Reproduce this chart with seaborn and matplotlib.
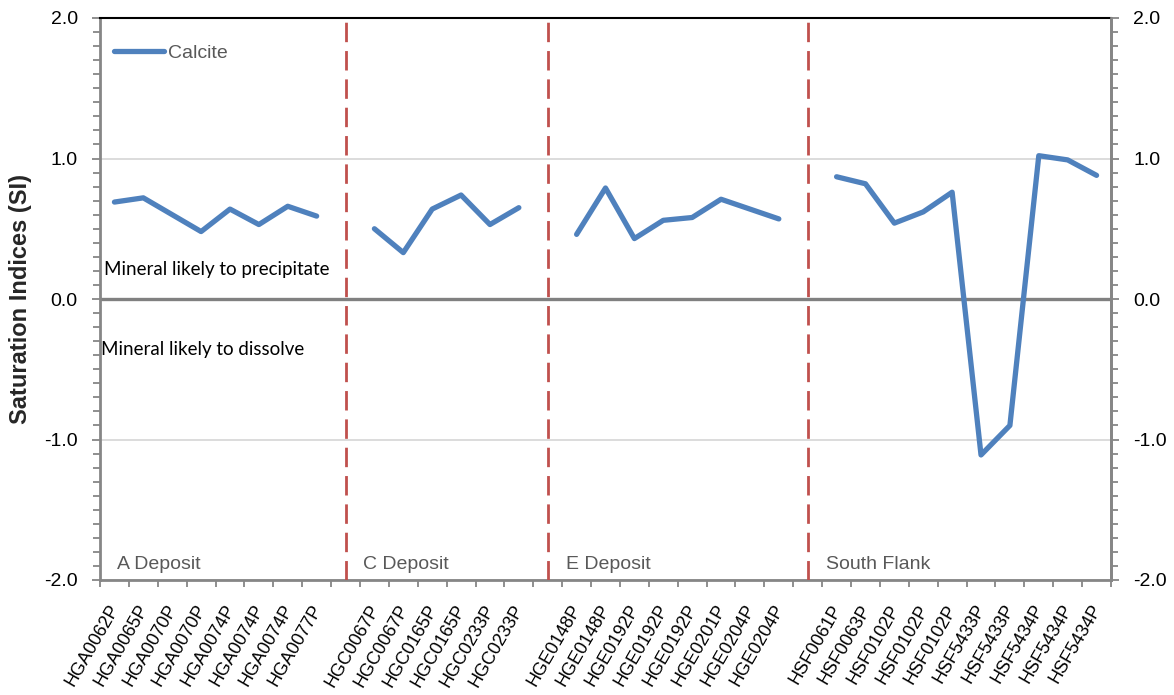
import matplotlib
matplotlib.use("Agg")
import matplotlib.pyplot as plt
import matplotlib.transforms as mtransforms
from matplotlib.lines import Line2D
from matplotlib.ticker import FixedLocator, MultipleLocator, FormatStrFormatter
import pandas as pd
import seaborn as sns

# Calcite saturation indices per deposit
deposits = ["A Deposit", "C Deposit", "E Deposit", "South Flank"]

a_samples = ["HGA0062P", "HGA0065P", "HGA0070P", "HGA0070P",
             "HGA0074P", "HGA0074P", "HGA0074P", "HGA0077P"]
a_si = [0.69, 0.72, 0.60, 0.48, 0.64, 0.53, 0.66, 0.59]

c_samples = ["HGC0067P", "HGC0067P", "HGC0165P", "HGC0165P",
             "HGC0233P", "HGC0233P"]
c_si = [0.50, 0.33, 0.64, 0.74, 0.53, 0.65]

e_samples = ["HGE0148P", "HGE0148P", "HGE0192P", "HGE0192P",
             "HGE0192P", "HGE0201P", "HGE0204P", "HGE0204P"]
e_si = [0.46, 0.79, 0.43, 0.56, 0.58, 0.71, 0.64, 0.57]

sf_samples = ["HSF0061P", "HSF0063P", "HSF0102P", "HSF0102P", "HSF0102P",
              "HSF5433P", "HSF5433P", "HSF5434P", "HSF5434P", "HSF5434P"]
sf_si = [0.87, 0.82, 0.54, 0.62, 0.76, -1.11, -0.90, 1.02, 0.99, 0.88]

y_ticks = [-2.0, -1.0, 0.0, 1.0, 2.0]

groups = [(a_samples, a_si), (c_samples, c_si), (e_samples, e_si), (sf_samples, sf_si)]

# Lay the samples out on a category axis with one empty slot between deposits
rows, labels, gaps, starts = [], [], [], []
pos = 0
for i, (dep, (names, vals)) in enumerate(zip(deposits, groups)):
    if i > 0:
        gaps.append(pos)
        labels.append("")
        pos += 1
    starts.append(pos)
    for n, v in zip(names, vals):
        rows.append({"pos": pos, "sample": n, "si": v, "deposit": dep})
        labels.append(n)
        pos += 1
n_slots = pos
df = pd.DataFrame(rows)

sns.set_theme(style="white")
plt.rcParams["font.family"] = ["Liberation Sans", "DejaVu Sans"]
plt.rcParams["axes.unicode_minus"] = False

BLUE = "#4f81bd"
RED = "#c0504d"
AXIS_GREY = "#868686"
TEXT_GREY = "#595959"

fig = plt.figure(figsize=(11.74, 6.95), dpi=100)
W, H = 1174, 695
ax = fig.add_axes([100 / W, 1 - 580 / H, 1011 / W, 562 / H])

ax.set_xlim(-0.5, n_slots - 0.5)
ax.set_ylim(-2, 2)

# Horizontal gridlines and the zero reference line
ax.yaxis.set_major_locator(FixedLocator(y_ticks))
ax.grid(axis="y", which="major", color="#d9d9d9", lw=1.3)
ax.grid(axis="x", visible=False)
ax.axhline(0, color="#808080", lw=2.4, zorder=2)

# Deposit separators
for g in gaps:
    ax.axvline(g, color=RED, lw=2.0, dashes=(7, 3.2), zorder=3)

# Calcite series, one unbroken line per deposit
for dep in deposits:
    sns.lineplot(data=df[df["deposit"] == dep], x="pos", y="si", ax=ax,
                 color=BLUE, lw=3.8, legend=False, sort=False, zorder=4,
                 solid_capstyle="round", solid_joinstyle="round")

# Spines
for side in ["left", "right", "bottom"]:
    ax.spines[side].set_color(AXIS_GREY)
    ax.spines[side].set_linewidth(2)
ax.spines["top"].set_color("black")
ax.spines["top"].set_linewidth(1.5)

# Y axis ticks
ax.yaxis.set_minor_locator(MultipleLocator(0.1))
ax.yaxis.set_major_formatter(FormatStrFormatter("%.1f"))
ax.tick_params(axis="y", which="both", left=True, direction="out",
               color=AXIS_GREY, width=1.3, labelsize=14, labelcolor="black", pad=10)
ax.tick_params(axis="y", which="major", length=6)
ax.tick_params(axis="y", which="minor", length=5)

# X axis: labels at category centres, tick marks at category boundaries
ax.xaxis.set_major_locator(FixedLocator(list(range(n_slots))))
ax.set_xticklabels(labels)
ax.xaxis.set_minor_locator(FixedLocator([k - 0.5 for k in range(n_slots + 1)]))
ax.tick_params(axis="x", which="major", length=0, pad=0, labelsize=13, labelcolor="black")
ax.tick_params(axis="x", which="minor", bottom=True, length=5, width=1.3,
               color=AXIS_GREY, direction="out")
shift = mtransforms.ScaledTranslation(1 / 100, -26 / 100, fig.dpi_scale_trans)
for lab in ax.get_xticklabels():
    lab.set_rotation(60)
    lab.set_ha("right")
    lab.set_va("center")
    lab.set_rotation_mode("anchor")
    lab.set_transform(lab.get_transform() + shift)

ax.set_xlabel("")
ax.set_ylabel("Saturation Indices (SI)", fontsize=17, fontweight="bold")
ax.yaxis.set_label_coords(-0.067, 0.5)

# Mirrored right axis
ax2 = ax.twinx()
ax2.set_ylim(-2, 2)
ax2.grid(False)
ax2.yaxis.set_major_locator(FixedLocator(y_ticks))
ax2.yaxis.set_minor_locator(MultipleLocator(0.1))
ax2.yaxis.set_major_formatter(FormatStrFormatter("%.1f"))
ax2.tick_params(axis="y", which="both", right=True, direction="out",
                color=AXIS_GREY, width=1.3, labelsize=14, labelcolor="black", pad=10)
ax2.tick_params(axis="y", which="major", length=6)
ax2.tick_params(axis="y", which="minor", length=5)
for side in ["left", "top", "bottom"]:
    ax2.spines[side].set_visible(False)
ax2.spines["right"].set_color(AXIS_GREY)
ax2.spines["right"].set_linewidth(2)

# Deposit names along the bottom of the plot
for i, (dep, s) in enumerate(zip(deposits, starts)):
    x = s - 0.5 + (0.6 if i == 0 else 0.12)
    ax.text(x, -1.89, dep, fontsize=14, color=TEXT_GREY, ha="left", va="center")

# Interpretation notes either side of zero
ax.text(-0.36, 0.21, "Mineral likely to precipitate", fontsize=13.5,
        family=["Lato", "DejaVu Sans"], color="black", ha="left", va="center")
ax.text(-0.45, -0.36, "Mineral likely to dissolve", fontsize=13.5,
        family=["Lato", "DejaVu Sans"], color="black", ha="left", va="center")

# Legend
handle = Line2D([], [], color=BLUE, lw=3.8, solid_capstyle="round")
leg = ax.legend(handles=[handle], labels=["Calcite"], loc="upper left",
                bbox_to_anchor=(0.0, 0.978), frameon=False, fontsize=14,
                handlelength=2.6, handletextpad=0.2, borderaxespad=0.3)
for t in leg.get_texts():
    t.set_color(TEXT_GREY)

fig.savefig("out.png", dpi=100)
